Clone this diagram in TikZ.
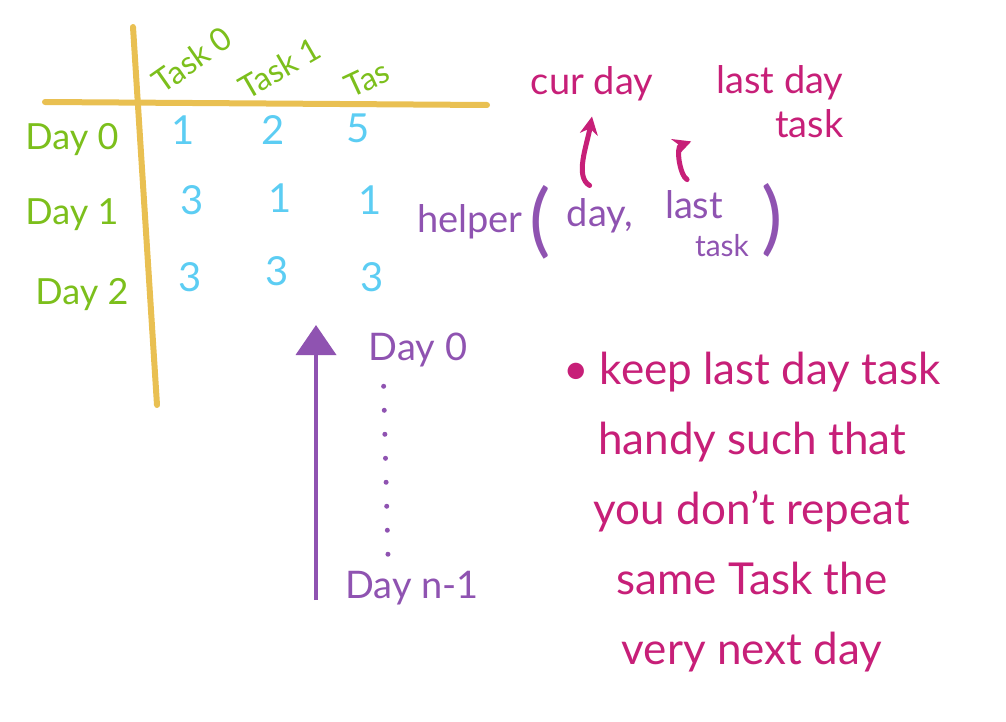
\documentclass[tikz,border=0pt]{standalone}
\usepackage{fontspec}
\setmainfont{Lato}
\usetikzlibrary{arrows.meta,positioning}

\definecolor{gridorange}{HTML}{E9C052}
\definecolor{daygreen}{HTML}{7CBF1C}
\definecolor{costblue}{HTML}{5CCDF3}
\definecolor{notepink}{HTML}{C71F78}
\definecolor{notepurple}{HTML}{8F53B1}

\begin{document}
\begin{tikzpicture}[x=0.5pt, y=-0.5pt, semithick,
    gridline/.style={draw=gridorange, line width=3pt, line cap=round},
    daylabel/.style={text=daygreen, font=\fontsize{18}{20}\selectfont},
    tasklabel/.style={text=daygreen, inner sep=1pt, font=\fontsize{16}{18}\selectfont},
    cost/.style={text=costblue, font=\fontsize{20}{24}\selectfont},
    pinktext/.style={text=notepink, font=\fontsize{19}{22}\selectfont},
    purpletext/.style={text=notepurple, font=\fontsize{19}{22}\selectfont},
    pinkarrow/.style={->, draw=notepink, line width=2.5pt, line cap=round,
                      >={Stealth[length=9pt,width=9pt]}},
    timearrow/.style={->, draw=notepurple, line width=2pt,
                      >={Triangle[length=15pt,width=20pt]}}]
    \useasboundingbox (0,0) rectangle (1006,722);

    % table frame
    \coordinate (vtop) at (133,27);
    \coordinate (vbot) at (157,405);
    \coordinate (hleft) at (45,102);
    \coordinate (hright) at (487,105);
    \draw[gridline] (vtop) -- (vbot);
    \draw[gridline] (hleft) -- (hright);

    % column and row headers
    \node[tasklabel, rotate=35] (task0) at (192,60)  {Task 0};
    \node[tasklabel, rotate=30] (task1) at (280,68)  {Task 1};
    \node[tasklabel, rotate=25] (task2) at (367,79)  {Tas};
    \node[daylabel]             (day0)  at (72,140)  {Day 0};
    \node[daylabel]             (day1)  at (72,215)  {Day 1};
    \node[daylabel]             (day2)  at (82,295)  {Day 2};

    % costs
    \node[cost] (c00) at (183,130) {1};
    \node[cost] (c01) at (273,130) {2};
    \node[cost] (c02) at (358,128) {5};
    \node[cost] (c10) at (192,200) {3};
    \node[cost] (c11) at (280,198) {1};
    \node[cost] (c12) at (370,200) {1};
    \node[cost] (c20) at (190,277) {3};
    \node[cost] (c21) at (277,271) {3};
    \node[cost] (c22) at (372,277) {3};

    % recursion over the days
    \coordinate (arrowfoot) at (316,600);
    \coordinate (arrowhead) at (316,325);
    \draw[timearrow] (arrowfoot) -- (arrowhead);
    \node[purpletext] (first) at (418,350) {Day 0};
    \node[purpletext] (last)  at (412,588) {Day n-1};
    \draw[notepurple, line width=2.5pt, line cap=round, dash pattern=on 0pt off 12pt]
        ([xshift=11pt,yshift=-6pt]first.south west) -- ([xshift=-12pt,yshift=4pt]last.north);

    % helper signature
    \node[purpletext]                          (helper) at (470,222) {helper};
    \node[purpletext, font=\fontsize{40}{40}\selectfont] (lparen) at (540,222) {(};
    \node[purpletext]                          (hday)   at (600,216) {day,};
    \node[purpletext]                          (hlast)  at (694,205) {last};
    \node[purpletext, font=\fontsize{15}{18}\selectfont] (htask) at (722,246) {task};
    \node[purpletext, font=\fontsize{40}{40}\selectfont] (rparen) at (772,220) {)};

    % what the arguments mean
    \node[pinktext] (curday)  at (592,84)  {cur day};
    \node[pinktext, align=right] (lastday) at (780,102) {last day\\task};
    \draw[pinkarrow, shorten <=6pt] (hday.north) to[out=150, in=-100] ([yshift=-4pt]curday.south);
    \draw[pinkarrow, shorten <=4pt] (hlast.north) to[out=150, in=200] ([xshift=-9pt,yshift=2pt]lastday.south west);

    % note
    \node[pinktext, font=\fontsize{22}{35}\selectfont, align=center] (note) at (752,512)
        {\textbullet\ keep last day task\\handy such that\\you don't repeat\\same Task the\\very next day};
\end{tikzpicture}
\end{document}
